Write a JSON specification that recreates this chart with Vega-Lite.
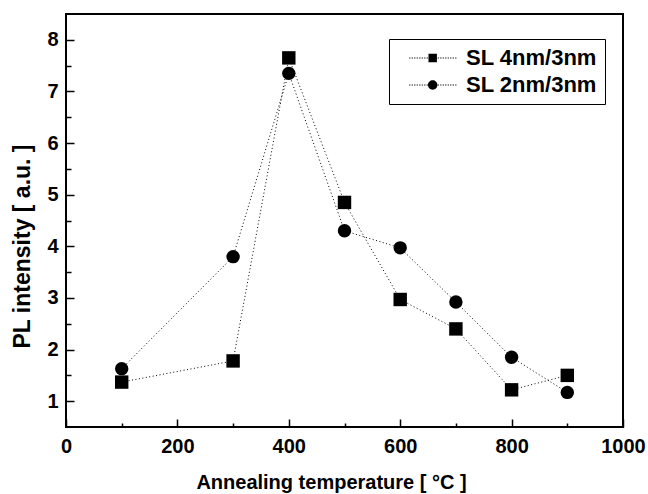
{
  "$schema": "https://vega.github.io/schema/vega-lite/v6.json",
  "width": 557,
  "height": 413,
  "autosize": {"type": "none"},
  "padding": {"left": 66, "top": 14, "right": 25, "bottom": 67},
  "background": "white",
  "config": {
    "font": "Liberation Sans",
    "view": {"stroke": "black", "strokeWidth": 2},
    "axis": {
      "grid": false,
      "domain": false,
      "labelFlush": false,
      "tickColor": "black",
      "tickWidth": 1.5,
      "labelFont": "Liberation Sans",
      "labelFontWeight": "bold",
      "labelFontSize": 20,
      "labelColor": "black",
      "titleFont": "Liberation Sans",
      "titleFontWeight": "bold",
      "titleFontSize": 20,
      "titleColor": "black"
    }
  },
  "data": {
    "values": [
      {"T": 100, "I": 1.37, "series": "SL 4nm/3nm"},
      {"T": 300, "I": 1.78, "series": "SL 4nm/3nm"},
      {"T": 400, "I": 7.65, "series": "SL 4nm/3nm"},
      {"T": 500, "I": 4.85, "series": "SL 4nm/3nm"},
      {"T": 600, "I": 2.97, "series": "SL 4nm/3nm"},
      {"T": 700, "I": 2.4, "series": "SL 4nm/3nm"},
      {"T": 800, "I": 1.22, "series": "SL 4nm/3nm"},
      {"T": 900, "I": 1.5, "series": "SL 4nm/3nm"},
      {"T": 100, "I": 1.63, "series": "SL 2nm/3nm"},
      {"T": 300, "I": 3.8, "series": "SL 2nm/3nm"},
      {"T": 400, "I": 7.35, "series": "SL 2nm/3nm"},
      {"T": 500, "I": 4.3, "series": "SL 2nm/3nm"},
      {"T": 600, "I": 3.97, "series": "SL 2nm/3nm"},
      {"T": 700, "I": 2.92, "series": "SL 2nm/3nm"},
      {"T": 800, "I": 1.85, "series": "SL 2nm/3nm"},
      {"T": 900, "I": 1.17, "series": "SL 2nm/3nm"}
    ]
  },
  "encoding": {
    "x": {"field": "T", "type": "quantitative", "scale": {"domain": [0, 1000], "nice": false},
          "axis": {"orient": "bottom",
                   "values": [0, 100, 200, 300, 400, 500, 600, 700, 800, 900, 1000],
                   "labelExpr": "datum.value % 200 === 0 ? format(datum.value, 'd') : ''",
                   "tickSize": {"condition": {"test": "datum.value % 200 === 0", "value": -8}, "value": -4},
                   "labelPadding": 17,
                   "title": "Annealing temperature [ °C ]", "titlePadding": 16, "titleX": 265}},
    "y": {"field": "I", "type": "quantitative", "scale": {"domain": [0.5, 8.5], "nice": false, "zero": false},
          "axis": {"orient": "left",
                   "values": [1, 1.5, 2, 2.5, 3, 3.5, 4, 4.5, 5, 5.5, 6, 6.5, 7, 7.5, 8],
                   "labelExpr": "datum.value % 1 === 0 ? format(datum.value, 'd') : ''",
                   "tickSize": {"condition": {"test": "datum.value % 1 === 0", "value": -8}, "value": -5},
                   "labelPadding": 16,
                   "title": "PL intensity [ a.u. ]", "titleFontSize": 23, "titlePadding": 12, "titleY": 232}}
  },
  "layer": [
    {
      "mark": {"type": "line", "color": "black", "strokeWidth": 1, "strokeDash": [1, 2.5]},
      "encoding": {
        "detail": {"field": "series"},
        "order": {"field": "T"}
      }
    },
    {
      "mark": {"type": "point", "filled": true, "color": "black", "opacity": 1, "size": 180},
      "encoding": {
        "shape": {
          "field": "series", "type": "nominal",
          "scale": {"domain": ["SL 4nm/3nm", "SL 2nm/3nm"], "range": ["square", "circle"]},
          "legend": null
        }
      }
    },
    {
      "mark": {"type": "point", "filled": true, "color": "black", "opacity": 0, "size": 400},
      "encoding": {
        "shape": {
          "field": "series", "type": "nominal",
          "scale": {"domain": ["SL 4nm/3nm", "SL 2nm/3nm"],
                    "range": ["M-2.35,-0.06h0.12v0.12h-0.12zM-2.1,-0.06h0.12v0.12h-0.12zM-1.85,-0.06h0.12v0.12h-0.12zM-1.6,-0.06h0.12v0.12h-0.12zM-1.35,-0.06h0.12v0.12h-0.12zM-1.1,-0.06h0.12v0.12h-0.12zM-0.85,-0.06h0.12v0.12h-0.12zM-0.6,-0.06h0.12v0.12h-0.12zM0.5,-0.06h0.12v0.12h-0.12zM0.75,-0.06h0.12v0.12h-0.12zM1.0,-0.06h0.12v0.12h-0.12zM1.25,-0.06h0.12v0.12h-0.12zM1.5,-0.06h0.12v0.12h-0.12zM1.75,-0.06h0.12v0.12h-0.12zM2.0,-0.06h0.12v0.12h-0.12zM2.25,-0.06h0.12v0.12h-0.12zM-0.42,-0.42H0.42V0.42H-0.42Z",
                              "M-2.35,-0.06h0.12v0.12h-0.12zM-2.1,-0.06h0.12v0.12h-0.12zM-1.85,-0.06h0.12v0.12h-0.12zM-1.6,-0.06h0.12v0.12h-0.12zM-1.35,-0.06h0.12v0.12h-0.12zM-1.1,-0.06h0.12v0.12h-0.12zM-0.85,-0.06h0.12v0.12h-0.12zM-0.6,-0.06h0.12v0.12h-0.12zM0.5,-0.06h0.12v0.12h-0.12zM0.75,-0.06h0.12v0.12h-0.12zM1.0,-0.06h0.12v0.12h-0.12zM1.25,-0.06h0.12v0.12h-0.12zM1.5,-0.06h0.12v0.12h-0.12zM1.75,-0.06h0.12v0.12h-0.12zM2.0,-0.06h0.12v0.12h-0.12zM2.25,-0.06h0.12v0.12h-0.12zM-0.47,0A0.47,0.47 0 1,0 0.47,0A0.47,0.47 0 1,0 -0.47,0Z"]},
          "legend": {
            "orient": "none", "legendX": 323, "legendY": 25,
            "title": null,
            "padding": 8,
            "strokeColor": "black",
            "fillColor": "white",
            "symbolSize": 400,
            "symbolOffset": 24.7,
            "symbolOpacity": 1,
            "symbolFillColor": "black",
            "symbolStrokeWidth": 0,
            "labelFont": "Liberation Sans",
            "labelFontWeight": "bold",
            "labelFontSize": 22,
            "labelColor": "black",
            "labelOffset": 22.3,
            "labelLimit": 200,
            "labelExpr": "datum.label + '\u00a0'",
            "rowPadding": 5
          }
        }
      }
    }
  ],
  "resolve": {"scale": {"shape": "independent"}}
}
